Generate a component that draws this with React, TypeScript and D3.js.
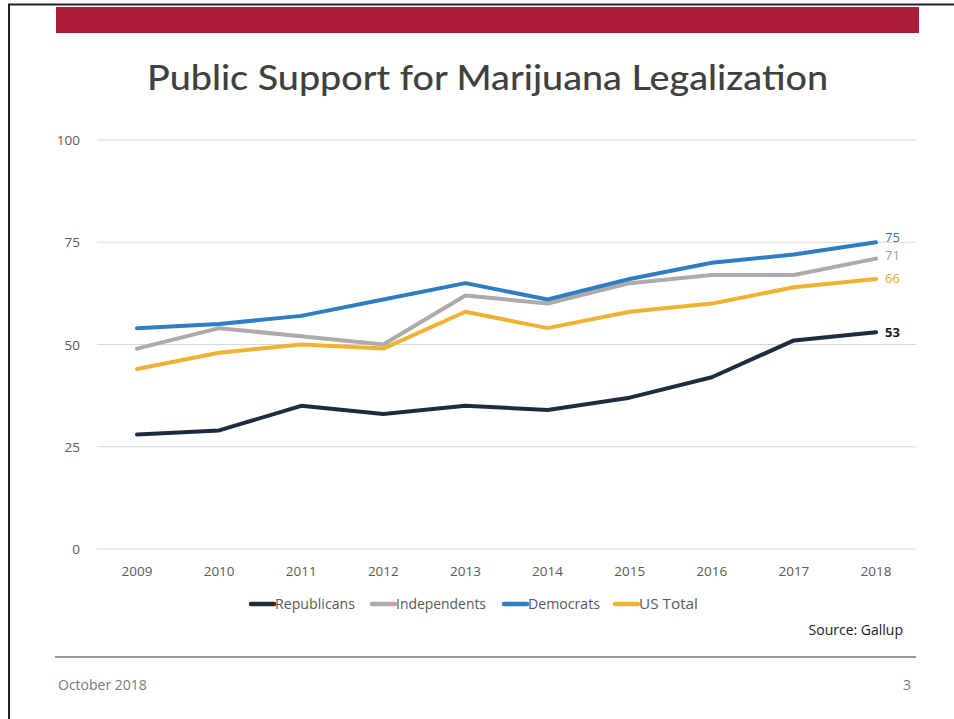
import React from "react";
import * as d3 from "d3";

const years = [2009, 2010, 2011, 2012, 2013, 2014, 2015, 2016, 2017, 2018];
const republicans = [28, 29, 35, 33, 35, 34, 37, 42, 51, 53];
const independents = [49, 54, 52, 50, 62, 60, 65, 67, 67, 71];
const democrats = [54, 55, 57, 61, 65, 61, 66, 70, 72, 75];
const usTotal = [44, 48, 50, 49, 58, 54, 58, 60, 64, 66];
const yTicks = [0, 25, 50, 75, 100];

const seriesNames = ["Republicans", "Independents", "Democrats", "US Total"];
const seriesColors = ["#1e2c40", "#afaaa7", "#2f7dc3", "#efb233"];
const labelColors = ["#1a1a1a", "#a5a19e", "#2f6fb0", "#eba52a"];
const labelNudge = [5, 1, 0, 4];

export default function App() {
  const W = 954, H = 719;
  const x = d3.scalePoint<number>().domain(years).range([137, 876]);
  const y = d3.scaleLinear().domain([0, 100]).range([549, 140]);
  const data = [republicans, independents, democrats, usTotal];
  const line = d3.line<number>().x((_, i) => x(years[i])!).y((d) => y(d));
  const order = [3, 0, 1, 2];
  const font = "'Open Sans', 'Noto Sans', sans-serif";
  const legendX = [250, 371, 503, 614];
  const legendW = [80, 90, 72, 59];
  return (
    <svg width={W} height={H} style={{ position: "absolute", left: 0, top: 0, background: "#fff" }} fontFamily={font}>
      <rect x={0} y={0} width={W} height={H} fill="#fff" />
      <line x1={8} x2={W} y1={4.5} y2={4.5} stroke="#222" strokeWidth={2} />
      <line x1={9} x2={9} y1={4} y2={H} stroke="#222" strokeWidth={2} />
      <rect x={56} y={7} width={863} height={26} fill="#ae1b3a" />
      <text x={147} y={90} fontSize={34} fill="#404040" fontFamily="Lato, 'Open Sans', sans-serif" fontWeight={500} textLength={681} lengthAdjust="spacingAndGlyphs">
        Public Support for Marijuana Legalization
      </text>
      {yTicks.map((t) => (
        <g key={t}>
          <line x1={97} x2={916} y1={y(t)} y2={y(t)} stroke="#dcd6d6" strokeWidth={1} />
          <text x={80} y={y(t) + 5} textAnchor="end" fontSize={13.5} fill="#595959">{t}</text>
        </g>
      ))}
      {years.map((yr) => (
        <text key={yr} x={x(yr)} y={576} textAnchor="middle" fontSize={13.5} fill="#595959">{yr}</text>
      ))}
      {order.map((i) => (
        <path key={i} d={line(data[i]) || ""} fill="none" stroke={seriesColors[i]} strokeWidth={4} strokeLinejoin="round" strokeLinecap="round" />
      ))}
      {data.map((s, i) => (
        <text key={i} x={885} y={y(s[s.length - 1]) + labelNudge[i]} fontSize={13} fontWeight={i === 0 ? 700 : 400} fill={labelColors[i]}>
          {s[s.length - 1]}
        </text>
      ))}
      {seriesNames.map((n, i) => (
        <g key={n}>
          <line x1={legendX[i] + 1} x2={legendX[i] + 24} y1={604} y2={604} stroke={seriesColors[i]} strokeWidth={4.5} strokeLinecap="round" />
          <text x={legendX[i] + 25} y={609} fontSize={14} fill="#595959" textLength={legendW[i]} lengthAdjust="spacingAndGlyphs">{n}</text>
        </g>
      ))}
      <text x={903} y={635} textAnchor="end" fontSize={14} fill="#1a1a1a">Source: Gallup</text>
      <line x1={55} x2={916} y1={657} y2={657} stroke="#333" strokeWidth={1.2} />
      <text x={58} y={690} fontSize={14} fill="#7a7a7a">October 2018</text>
      <text x={911} y={690} textAnchor="end" fontSize={14} fill="#7a7a7a">3</text>
    </svg>
  );
}
